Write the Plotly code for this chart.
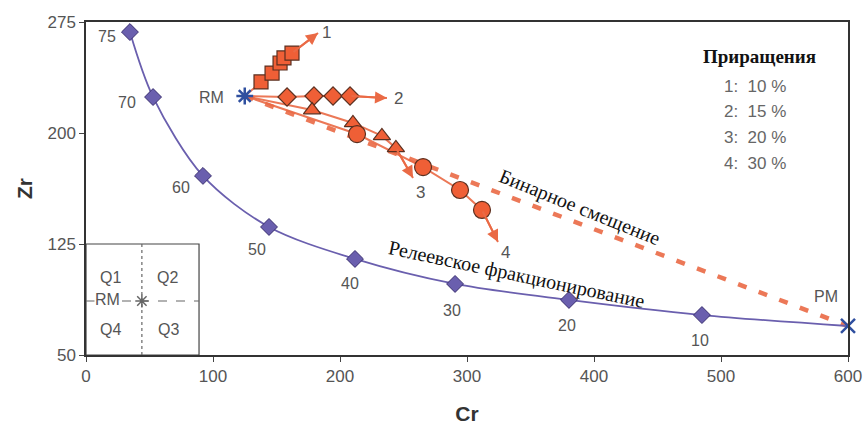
import plotly.graph_objects as go

# Rayleigh fractionation curve (Cr, Zr) with % labels
ray_cr = [34.6, 52.8, 92.1, 144.1, 211.8, 290.6, 380.3, 485.0]
ray_zr = [268.2, 224.3, 171.0, 136.5, 114.9, 98.0, 87.2, 77.0]
ray_lbl = ["75", "70", "60", "50", "40", "30", "20", "10"]
ray_lbl_cr = [16.5, 32.3, 74.8, 134.6, 207.9, 288.2, 378.7, 483.5]
ray_lbl_zr = [264.9, 220.3, 163.5, 121.6, 98.6, 80.4, 69.6, 60.1]

# End members
rm = (125.0, 225.0)
pm = (600.0, 69.6)

# Increment series (Cr, Zr)
s1_cr = [137.8, 146.5, 152.8, 155.9, 162.2]
s1_zr = [234.5, 240.5, 247.3, 250.7, 254.0]
s2_cr = [158.3, 179.5, 194.5, 207.9]
s2_zr = [224.3, 225.0, 225.0, 225.0]
s3_cr = [178.0, 210.2, 233.0, 244.0]
s3_zr = [215.5, 206.8, 198.0, 189.9]
s4_cr = [213.4, 265.4, 294.5, 311.8]
s4_zr = [199.3, 177.0, 161.5, 148.0]
arrow_ends = [(182.7, 267.6), (237.0, 223.6), (257.5, 169.6), (324.4, 126.4)]
series_lbl = ["1", "2", "3", "4"]
series_lbl_pos = [(189.0, 268.2), (245.7, 223.6), (263.0, 159.5), (330.7, 119.0)]

legend_title = "Приращения"
legend_rows = ["1:  10 %", "2:  15 %", "3:  20 %", "4:  30 %"]
legend_rows_zr = [231.1, 214.2, 197.3, 179.7]

x_ticks = [0, 100, 200, 300, 400, 500, 600]
y_ticks = [50, 125, 200, 275]

ORANGE = "#ea6a45"
FILL = "#ef5f36"
EDGE = "#5b2f1f"
PURPLE = "#6a5fae"
BLUE = "#2f4f9f"
GRAY = "#555555"
SANS = "Liberation Sans, Arial"
SERIF = "Liberation Serif, Times New Roman"

fig = go.Figure()

# Binary mixing dashed line RM -> PM
fig.add_trace(go.Scatter(x=[rm[0], pm[0]], y=[rm[1], pm[1]], mode="lines",
                         line=dict(color=ORANGE, width=4.5, dash="9px,13px"),
                         opacity=0.9, hoverinfo="skip"))

# Rayleigh curve
fig.add_trace(go.Scatter(x=ray_cr + [pm[0]], y=ray_zr + [pm[1]], mode="lines",
                         line=dict(color=PURPLE, width=1.8, shape="spline", smoothing=0.9),
                         hoverinfo="skip"))
fig.add_trace(go.Scatter(x=ray_cr, y=ray_zr, mode="markers",
                         marker=dict(symbol="diamond", size=13, color=PURPLE,
                                     line=dict(color="#3a2f70", width=1))))

series = [(s1_cr, s1_zr, "square", 14), (s2_cr, s2_zr, "diamond", 14),
          (s3_cr, s3_zr, "triangle-up", 15), (s4_cr, s4_zr, "circle", 17)]
for (cx, cy, sym, sz), end in zip(series, arrow_ends):
    fig.add_trace(go.Scatter(x=[rm[0]] + cx + [end[0]], y=[rm[1]] + cy + [end[1]], mode="lines",
                             line=dict(color=ORANGE, width=2), opacity=0.9, hoverinfo="skip"))
for (cx, cy, sym, sz), end in zip(series, arrow_ends):
    fig.add_annotation(x=end[0], y=end[1], ax=cx[-1], ay=cy[-1], xref="x", yref="y",
                       axref="x", ayref="y", showarrow=True, arrowhead=2, arrowsize=1.2,
                       arrowwidth=2, arrowcolor=ORANGE, text="")
    fig.add_trace(go.Scatter(x=cx, y=cy, mode="markers",
                             marker=dict(symbol=sym, size=sz, color=FILL,
                                         line=dict(color=EDGE, width=1.2))))

# End-member markers
fig.add_trace(go.Scatter(x=[rm[0]], y=[rm[1]], mode="markers",
                         marker=dict(symbol="asterisk-open", size=14, color=BLUE,
                                     line=dict(color=BLUE, width=2.5))))
fig.add_trace(go.Scatter(x=[pm[0]], y=[pm[1]], mode="markers", cliponaxis=False,
                         marker=dict(symbol="x-thin-open", size=14, color=BLUE,
                                     line=dict(color=BLUE, width=2.5))))

# Inset quadrant box
fig.add_shape(type="rect", x0=0, x1=89, y0=50, y1=125, xref="x", yref="y",
              line=dict(color="#444444", width=1.2))
fig.add_shape(type="line", x0=44, x1=44, y0=50, y1=125, xref="x", yref="y",
              line=dict(color="#666666", width=1.2, dash="dot"))
fig.add_shape(type="line", x0=0, x1=89, y0=86.5, y1=86.5, xref="x", yref="y",
              line=dict(color="#666666", width=1.2, dash="dash"))
fig.add_trace(go.Scatter(x=[44], y=[86.5], mode="markers",
                         marker=dict(symbol="asterisk-open", size=11, color="#666666",
                                     line=dict(color="#666666", width=1.5))))
quad_txt = ["Q1", "Q2", "RM", "Q4", "Q3"]
quad_x = [18.9, 63.8, 17.3, 18.9, 64.6]
quad_y = [102.7, 102.7, 87.2, 66.9, 66.9]
for t, qx, qy in zip(quad_txt, quad_x, quad_y):
    fig.add_annotation(x=qx, y=qy, text=t, showarrow=False,
                       bgcolor="white" if t == "RM" else None, borderpad=0,
                       font=dict(family=SANS, size=16, color=GRAY))

# Curve labels
for t, lx, ly in zip(ray_lbl, ray_lbl_cr, ray_lbl_zr):
    fig.add_annotation(x=lx, y=ly, text=t, showarrow=False,
                       font=dict(family=SANS, size=16, color=GRAY))
fig.add_annotation(x=582.7, y=89.2, text="PM", showarrow=False,
                   font=dict(family=SANS, size=16, color=GRAY))
fig.add_annotation(x=99.2, y=224.3, text="RM", showarrow=False,
                   font=dict(family=SANS, size=16, color=GRAY))
for t, (lx, ly) in zip(series_lbl, series_lbl_pos):
    fig.add_annotation(x=lx, y=ly, text=t, showarrow=False,
                       font=dict(family=SANS, size=17, color=GRAY))

# Rotated curve names
fig.add_annotation(x=389, y=150, text="Бинарное смещение", showarrow=False, textangle=22,
                   font=dict(family=SERIF, size=20, color="#111111"))
fig.add_annotation(x=338.6, y=104.7, text="Релеевское фракционирование", showarrow=False,
                   textangle=12, font=dict(family=SERIF, size=20, color="#111111"))

# Increment legend
fig.add_annotation(x=530.7, y=252, text="<b>" + legend_title + "</b>", showarrow=False,
                   font=dict(family=SERIF, size=19, color="#111111"))
for t, ly in zip(legend_rows, legend_rows_zr):
    fig.add_annotation(x=500.8, y=ly, text=t.replace("  ", "&nbsp;&nbsp;"), showarrow=False,
                       xanchor="left", font=dict(family=SANS, size=17, color="#666666"))

axis_common = dict(showgrid=False, zeroline=False, showline=True, linecolor="#333333",
                   linewidth=1.5, mirror=True, ticks="outside", ticklen=5, tickcolor="#444444",
                   automargin=False,
                   tickfont=dict(family=SANS, size=17, color=GRAY))
fig.update_xaxes(range=[0, 600], tickvals=x_ticks, **axis_common,
                 title=dict(text="<b>Cr</b>", standoff=21,
                            font=dict(family=SANS, size=21, color="#333333")))
fig.update_yaxes(range=[50, 275], tickvals=y_ticks, **axis_common,
                 title=dict(text="<b>Zr</b>", standoff=9,
                            font=dict(family=SANS, size=21, color="#333333")))
fig.update_layout(width=864, height=430, showlegend=False, plot_bgcolor="white",
                  paper_bgcolor="white", margin=dict(l=86, r=16, t=22, b=75))
# remove the default page margin so the figure fills the window exactly
fig.write_html("out.html", config={"displayModeBar": False},
               post_script="document.body.style.margin='0';document.body.style.overflow='hidden';")
